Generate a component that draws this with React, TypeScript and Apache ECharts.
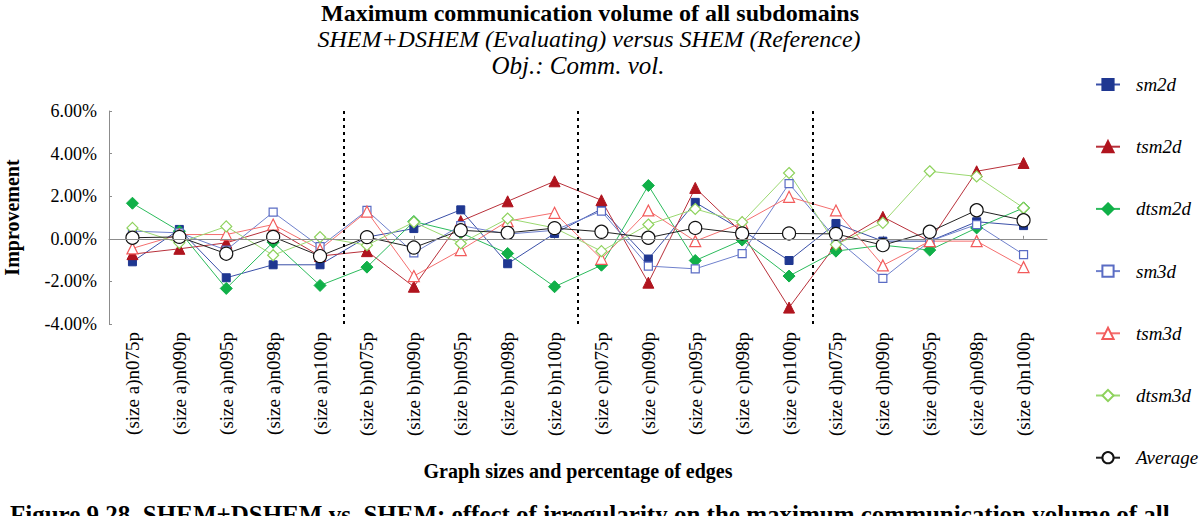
import React, { useEffect, useRef } from "react";
import * as echarts from "echarts";

const categories = [
  "(size a)n075p", "(size a)n090p", "(size a)n095p", "(size a)n098p", "(size a)n100p",
  "(size b)n075p", "(size b)n090p", "(size b)n095p", "(size b)n098p", "(size b)n100p",
  "(size c)n075p", "(size c)n090p", "(size c)n095p", "(size c)n098p", "(size c)n100p",
  "(size d)n075p", "(size d)n090p", "(size d)n095p", "(size d)n098p", "(size d)n100p",
];

const sm2d = [-1.08, 0.44, -1.83, -1.22, -1.22, 0.08, 0.48, 1.36, -1.17, 0.25, 1.4, -0.95, 1.71, 0.4, -1.02, 0.72, -0.11, -0.11, 0.8, 0.62];
const tsm2d = [-0.72, -0.47, -0.19, 0.47, -0.81, -0.58, -2.25, 0.83, 1.76, 2.7, 1.81, -2.06, 2.39, 0.28, -3.23, -0.27, 1.03, -0.11, 3.17, 3.56];
const dtsm2d = [1.67, 0.36, -2.33, -0.16, -2.19, -1.33, 0.81, 0.28, -0.69, -2.25, -1.24, 2.5, -1.02, -0.06, -1.75, -0.58, -0.3, -0.53, 0.51, 1.45];
const sm3d = [0.36, 0.28, -0.53, 1.25, -0.37, 1.33, -0.66, 0.62, 0.22, 0.4, 1.3, -1.28, -1.41, -0.7, 2.59, 0.0, -1.86, -0.11, 0.67, -0.74];
const tsm3d = [-0.45, 0.2, 0.2, 0.67, -0.5, 1.28, -1.75, -0.53, 0.83, 1.22, -0.94, 1.33, -0.11, 0.75, 1.97, 1.33, -1.25, -0.11, -0.11, -1.33];
const dtsm3d = [0.51, -0.19, 0.58, -0.77, 0.08, -0.3, 0.78, -0.22, 0.95, 0.51, -0.58, 0.67, 1.4, 0.78, 3.09, -0.27, 0.75, 3.17, 2.93, 1.45];
const average = [0.05, 0.09, -0.7, 0.09, -0.81, 0.08, -0.41, 0.4, 0.28, 0.5, 0.33, 0.05, 0.51, 0.25, 0.25, 0.23, -0.3, 0.33, 1.34, 0.87];

const groupBoundaries = [5, 10, 15];

const FONT = '"Liberation Serif", "Times New Roman", serif';

type SeriesDef = {
  name: string;
  data: number[];
  color: string;
  line: string;
  symbol: string;
  size: number;
  open: boolean;
};

const seriesDefs: SeriesDef[] = [
  { name: "sm2d", data: sm2d, color: "#1f3791", line: "#3a50a8", symbol: "rect", size: 8, open: false },
  { name: "tsm2d", data: tsm2d, color: "#b0141e", line: "#b8303a", symbol: "triangle", size: 11, open: false },
  { name: "dtsm2d", data: dtsm2d, color: "#10b048", line: "#2cbb5c", symbol: "diamond", size: 12, open: false },
  { name: "sm3d", data: sm3d, color: "#5a6cc4", line: "#6f80cc", symbol: "rect", size: 8, open: true },
  { name: "tsm3d", data: tsm3d, color: "#f25b5b", line: "#f46f6f", symbol: "triangle", size: 11, open: true },
  { name: "dtsm3d", data: dtsm3d, color: "#8ed25c", line: "#9bd870", symbol: "diamond", size: 11, open: true },
  { name: "Average", data: average, color: "#111111", line: "#222222", symbol: "circle", size: 13, open: true },
];

export default function App() {
  const ref = useRef<HTMLDivElement>(null);

  useEffect(() => {
    if (!ref.current) return;
    const chart = echarts.init(ref.current, undefined, { renderer: "svg" });

    const lineSeries: any[] = seriesDefs.map((s) => ({
      name: s.name,
      type: "line",
      data: s.data,
      xAxisIndex: 0,
      yAxisIndex: 0,
      symbol: s.symbol,
      symbolSize: s.size,
      showAllSymbol: true,
      lineStyle: { color: s.line, width: 1 },
      itemStyle: s.open
        ? { color: "#ffffff", borderColor: s.color, borderWidth: 1.2 }
        : { color: s.color, borderColor: s.color, borderWidth: 1 },
      emphasis: { disabled: true },
    }));

    lineSeries[0].markLine = {
      silent: true,
      symbol: "none",
      label: { show: false },
      lineStyle: { color: "#8c8c8c", width: 1, type: "solid" },
      data: [{ yAxis: 0 }],
    };

    lineSeries.unshift({
      name: "boundaries",
      type: "line",
      xAxisIndex: 1,
      yAxisIndex: 0,
      data: [[0, 0], [20, 0]],
      symbol: "none",
      lineStyle: { opacity: 0 },
      markLine: {
        silent: true,
        symbol: "none",
        label: { show: false },
        lineStyle: { color: "#000000", width: 2, type: [3, 4] },
        data: groupBoundaries.map((b) => ({ xAxis: b })),
      },
    });

    chart.setOption({
      animation: false,
      backgroundColor: "#ffffff",
      textStyle: { fontFamily: FONT },
      grid: { left: 109, right: 153, top: 111, bottom: 192, containLabel: false, outerBoundsMode: "none" },
      legend: {
        orient: "vertical",
        left: 1090,
        top: 70,
        itemWidth: 24,
        itemHeight: 14,
        itemGap: 43.2,
        data: seriesDefs.map((s) => s.name),
        textStyle: { fontFamily: FONT, fontStyle: "italic", fontSize: 19, color: "#000", padding: [0, 0, 0, 11] },
      },
      xAxis: [
        {
          type: "category",
          data: categories,
          boundaryGap: true,
          axisLine: { show: true, lineStyle: { color: "#8c8c8c", width: 1 } },
          axisTick: { show: true, inside: true, length: 3, alignWithLabel: true, lineStyle: { color: "#8c8c8c" } },
          axisLabel: { rotate: 90, interval: 0, fontSize: 19, color: "#000", fontFamily: FONT, margin: 8 },
          splitLine: { show: false },
          name: "Graph sizes and percentage of edges",
          nameLocation: "middle",
          nameGap: 137,
          nameTextStyle: { fontFamily: FONT, fontWeight: "bold", fontSize: 20, color: "#000" },
        },
        {
          type: "value",
          min: 0,
          max: 20,
          show: false,
        },
      ],
      yAxis: {
        type: "value",
        min: -4,
        max: 6,
        interval: 2,
        axisLine: { show: true, lineStyle: { color: "#8c8c8c", width: 1 } },
        axisTick: { show: true, inside: true, length: 3, lineStyle: { color: "#8c8c8c" } },
        splitLine: { show: false },
        axisLabel: {
          fontSize: 18,
          color: "#000",
          fontFamily: FONT,
          margin: 12,
          formatter: (v: number) => v.toFixed(2) + "%",
        },
        name: "Improvement",
        nameLocation: "middle",
        nameGap: 87,
        nameTextStyle: { fontFamily: FONT, fontWeight: "bold", fontSize: 20, color: "#000" },
      },
      graphic: [
        {
          type: "text",
          x: 590,
          y: 13,
          style: {
            text: "Maximum communication volume of all subdomains",
            fontFamily: FONT,
            fontWeight: "bold",
            fontSize: 24,
            fill: "#000",
            textAlign: "center",
            textVerticalAlign: "middle",
          },
        },
        {
          type: "text",
          x: 589,
          y: 39,
          style: {
            text: "SHEM+DSHEM (Evaluating) versus SHEM (Reference)",
            fontFamily: FONT,
            fontStyle: "italic",
            fontSize: 24,
            fill: "#000",
            textAlign: "center",
            textVerticalAlign: "middle",
          },
        },
        {
          type: "text",
          x: 578,
          y: 65,
          style: {
            text: "Obj.: Comm. vol.",
            fontFamily: FONT,
            fontStyle: "italic",
            fontSize: 25,
            fill: "#000",
            textAlign: "center",
            textVerticalAlign: "middle",
          },
        },
        {
          type: "text",
          x: 10,
          y: 502,
          style: {
            text: "Figure 9.28. SHEM+DSHEM vs. SHEM: effect of irregularity on the maximum communication volume of all",
            fontFamily: FONT,
            fontWeight: "bold",
            fontSize: 25,
            fill: "#000",
            textAlign: "left",
            textVerticalAlign: "top",
          },
        },
      ],
      series: lineSeries,
    });

    return () => chart.dispose();
  }, []);

  return (
    <div
      ref={ref}
      style={{ position: "fixed", left: 0, top: 0, width: 1200, height: 516, background: "#fff" }}
    />
  );
}
